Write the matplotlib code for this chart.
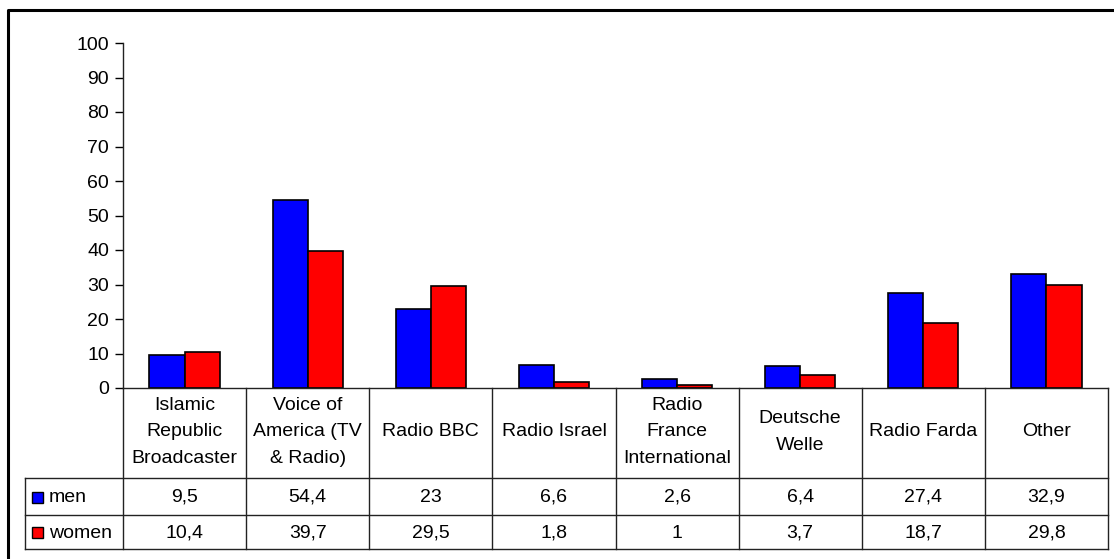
import matplotlib.pyplot as plt
import numpy as np

plt.rcParams['font.family'] = ['Liberation Sans', 'DejaVu Sans']

categories = ['Islamic\nRepublic\nBroadcaster', 'Voice of\nAmerica (TV\n& Radio)', 'Radio BBC',
              'Radio Israel', 'Radio\nFrance\nInternational', 'Deutsche\nWelle', 'Radio Farda', 'Other']
men = [9.5, 54.4, 23, 6.6, 2.6, 6.4, 27.4, 32.9]
women = [10.4, 39.7, 29.5, 1.8, 1, 3.7, 18.7, 29.8]
series_names = ['men', 'women']
colors = ['#0000FF', '#FF0000']

W, H = 1114, 559
FS = 14
fig = plt.figure(figsize=(W / 100, H / 100), dpi=100)

# plot area in pixels
left, right, top, bottom = 123, 1108, 43, 388
ax = fig.add_axes([left / W, 1 - bottom / H, (right - left) / W, (bottom - top) / H])

x = np.arange(len(categories))
bw = 0.285
ax.bar(x - bw / 2, men, bw, color=colors[0], edgecolor='black', linewidth=1.2)
ax.bar(x + bw / 2, women, bw, color=colors[1], edgecolor='black', linewidth=1.2)

ax.set_xlim(-0.5, len(categories) - 0.5)
ax.set_ylim(0, 100)
ax.set_yticks(range(0, 101, 10))
ax.tick_params(axis='y', length=6, width=1, labelsize=FS, pad=4, colors='black')
ax.set_xticks([])
for s in ['top', 'right', 'bottom']:
    ax.spines[s].set_visible(False)
ax.spines['left'].set_linewidth(1)
ax.spines['left'].set_color('#222222')

# overlay in pixel coordinates for the data table
ov = fig.add_axes([0, 0, 1, 1])
ov.set_xlim(0, W)
ov.set_ylim(H, 0)
ov.axis('off')

lc = '#222222'
col_w = (right - left) / len(categories)
y_head, y_men, y_women, y_end = bottom, 478, 515, 549
leg_left = 25

ov.plot([left, right], [y_head, y_head], color=lc, lw=1)
for yy in [y_men, y_women, y_end]:
    ov.plot([leg_left, right], [yy, yy], color=lc, lw=1)
ov.plot([leg_left, leg_left], [y_men, y_end], color=lc, lw=1)
for i in range(len(categories) + 1):
    xx = left + i * col_w
    ov.plot([xx, xx], [y_head, y_end], color=lc, lw=1)

for i, cat in enumerate(categories):
    cx = left + (i + 0.5) * col_w
    ov.text(cx, (y_head + y_men) / 2 - 1, cat, ha='center', va='center', fontsize=FS,
            linespacing=1.75)
    ov.text(cx, (y_men + y_women) / 2 + 1, f'{men[i]:g}'.replace('.', ','), ha='center',
            va='center', fontsize=FS)
    ov.text(cx, (y_women + y_end) / 2 + 1, f'{women[i]:g}'.replace('.', ','), ha='center',
            va='center', fontsize=FS)

for j, (name, c) in enumerate(zip(series_names, colors)):
    y0, y1 = [(y_men, y_women), (y_women, y_end)][j]
    yc = (y0 + y1) / 2
    ov.add_patch(plt.Rectangle((32, yc - 5), 11, 11, facecolor=c, edgecolor='black', lw=1))
    ov.text(49, yc + 1, name, ha='left', va='center', fontsize=FS)

# outer chart border
ov.plot([8, 8, W + 5], [H + 5, 10, 10], color='black', lw=2.2)

fig.savefig('out.png', dpi=100)
